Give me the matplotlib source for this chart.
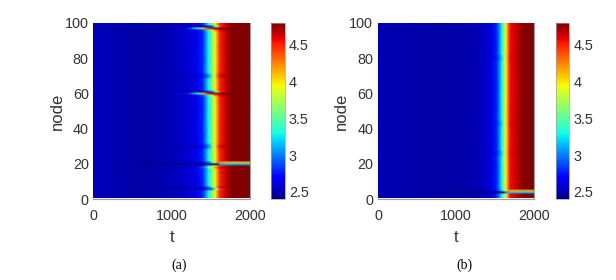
import numpy as np
import matplotlib
matplotlib.use("Agg")
import matplotlib.pyplot as plt

t_a = [0, 300, 600, 900, 1200, 1320, 1400, 1470, 1520, 1556, 1590, 1620, 1700, 1770, 2000]
base_a = [2.54, 2.51, 2.48, 2.51, 2.56, 2.63, 2.78, 3.27, 3.6, 3.93, 4.25, 4.5, 4.66, 4.8, 4.8]
steep_a = [2.54, 2.51, 2.48, 2.5, 2.53, 2.57, 2.64, 2.95, 3.45, 3.95, 4.4, 4.6, 4.72, 4.8, 4.8]
lag_a = [2.54, 2.51, 2.48, 2.48, 2.48, 2.49, 2.52, 2.62, 2.85, 3.3, 3.95, 4.45, 4.64, 4.78, 4.8]
spike_a = [2.54, 2.51, 2.48, 2.5, 2.72, 3.35, 4.05, 4.5, 4.7, 4.78, 4.8, 4.8, 4.8, 4.8, 4.8]
early_a = [2.54, 2.51, 2.48, 2.51, 2.56, 2.66, 2.9, 3.45, 3.9, 4.25, 4.42, 4.58, 4.72, 4.8, 4.8]
stuck_a = [2.53, 2.49, 2.46, 2.45, 2.43, 2.42, 2.4, 2.4, 2.4, 2.42, 2.5, 3.1, 3.15, 3.15, 3.15]
edge_a = [2.54, 2.51, 2.48, 2.5, 2.53, 2.57, 2.62, 2.9, 3.3, 3.8, 4.25, 4.2, 4.1, 4.1, 4.1]

nodes_a = [1, 5, 6, 7, 8, 10, 16, 17, 18, 19, 20, 21, 22, 24, 28, 30, 32, 40, 57, 58, 59, 60, 61, 62,
           68, 70, 72, 85, 94, 95, 96, 97, 98, 99, 100]
rows_a = [base_a, base_a, lag_a, steep_a, base_a, base_a, base_a, base_a, early_a, base_a, stuck_a, edge_a,
          base_a, base_a, base_a, steep_a, base_a, base_a, base_a, base_a, early_a, spike_a, lag_a, base_a,
          base_a, steep_a, base_a, base_a, base_a, base_a, early_a, spike_a, lag_a, base_a, base_a]

t_b = [0, 400, 830, 1100, 1300, 1450, 1520, 1582, 1610, 1633, 1667, 1690, 1750, 1850, 2000]
base_b = [2.52, 2.5, 2.48, 2.5, 2.52, 2.61, 2.78, 3.27, 3.6, 3.93, 4.3, 4.55, 4.62, 4.78, 4.8]
steep_b = [2.52, 2.5, 2.48, 2.5, 2.52, 2.59, 2.74, 3.17, 3.55, 3.95, 4.35, 4.58, 4.64, 4.78, 4.8]
stuck_b = [2.52, 2.5, 2.47, 2.43, 2.42, 2.4, 2.4, 2.42, 2.55, 2.9, 3.15, 3.15, 3.15, 3.15, 3.15]
edge_b = [2.52, 2.5, 2.48, 2.48, 2.48, 2.57, 2.72, 3.1, 3.5, 3.9, 4.2, 4.1, 4.1, 4.1, 4.1]

nodes_b = [1, 2, 3, 4, 5, 6, 7, 24, 26, 28, 41, 43, 45, 78, 80, 82, 100]
rows_b = [base_b, base_b, base_b, stuck_b, edge_b, base_b, base_b, base_b, steep_b, base_b,
          base_b, steep_b, base_b, base_b, steep_b, base_b, base_b]

text_color = "#333333"
edge_color = "#a0a0a0"

plt.rcParams["font.family"] = ["Liberation Sans", "DejaVu Sans"]

W, H = 616, 280
fig = plt.figure(figsize=(W / 100, H / 100), dpi=100)


def panel(x0, x1, cx0, cx1, t, nodes, rows, caption, cap_x):
    y0, y1 = 22.7, 199.3
    ax = fig.add_axes([x0 / W, 1 - y1 / H, (x1 - x0) / W, (y1 - y0) / H])
    mesh = ax.pcolormesh(t, nodes, np.array(rows), cmap="jet", vmin=2.4, vmax=4.8, shading="gouraud")
    ax.set_xlim(0, 2000)
    ax.set_ylim(0, 100)
    ax.set_xticks([0, 1000, 2000])
    ax.set_yticks([0, 20, 40, 60, 80, 100])
    ax.tick_params(labelsize=10.4, colors=text_color, length=0, pad=3.5)
    ax.tick_params(axis="x", pad=7)
    for s in ["top", "left"]:
        ax.spines[s].set_visible(False)
    for s in ["bottom", "right"]:
        ax.spines[s].set_color(edge_color)
        ax.spines[s].set_linewidth(0.8)
    ax.set_xlabel("t", fontsize=12, color=text_color, labelpad=5)
    ax.set_ylabel("node", fontsize=12, color=text_color, labelpad=0)

    cax = fig.add_axes([cx0 / W, 1 - y1 / H, (cx1 - cx0) / W, (y1 - y0) / H])
    cb = fig.colorbar(mesh, cax=cax)
    cb.set_ticks([2.5, 3, 3.5, 4, 4.5])
    cb.set_ticklabels(["2.5", "3", "3.5", "4", "4.5"])
    cb.ax.tick_params(labelsize=10.4, colors=text_color, length=0, pad=3)
    cb.outline.set_edgecolor(edge_color)
    cb.outline.set_linewidth(0.5)

    fig.text(cap_x / W, 1 - 265 / H, caption, family="Liberation Serif", fontsize=10,
             color="black", ha="center", va="center")


panel(93.5, 249.7, 271.3, 284.7, t_a, nodes_a, rows_a, "(a)", 179)
panel(378, 534.3, 556, 569.3, t_b, nodes_b, rows_b, "(b)", 464)

fig.savefig("out.png", dpi=100)
